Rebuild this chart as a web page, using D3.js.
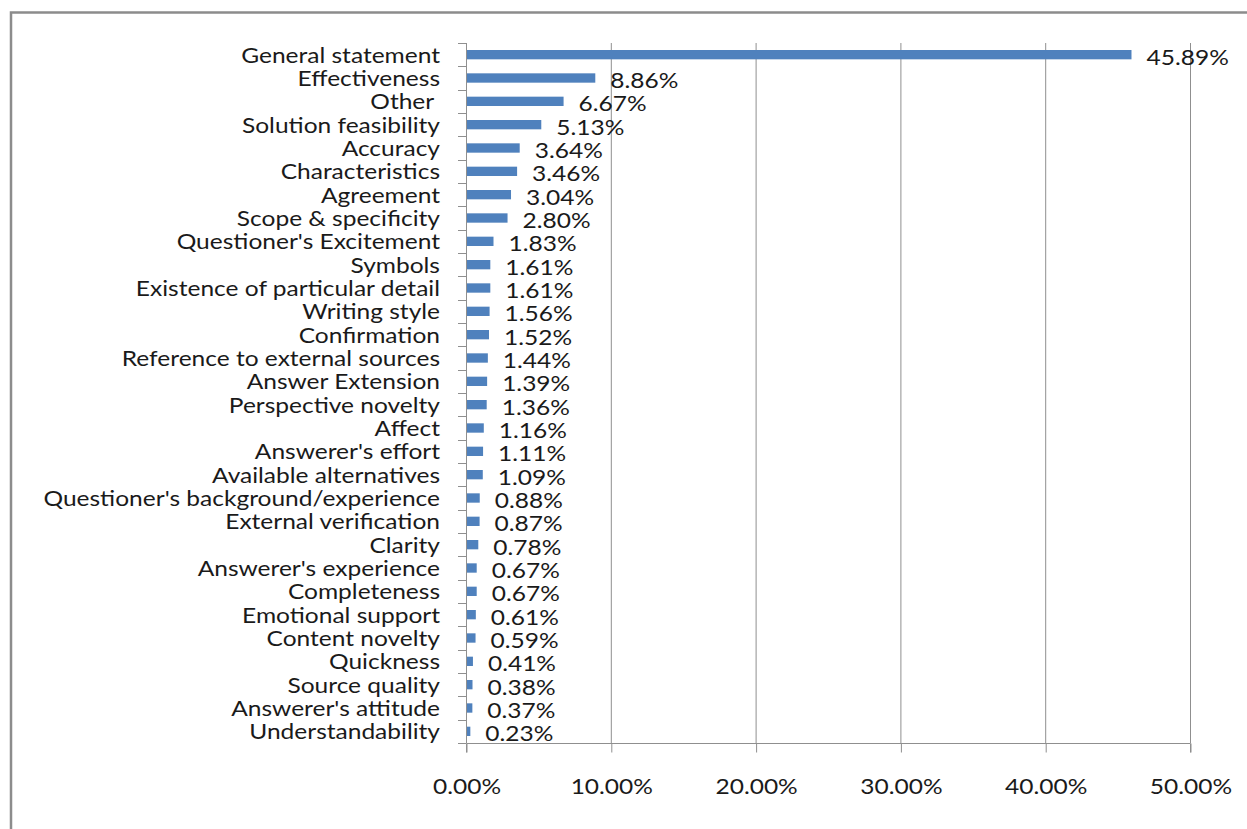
<!DOCTYPE html>
<html>
<head>
<meta charset="utf-8">
<script src="https://cdn.jsdelivr.net/npm/d3@7"></script>
<style>
  html, body { margin: 0; padding: 0; background: #fff; }
  svg { display: block; }
  text { font-family: Lato, "Open Sans", sans-serif; fill: #1a1a1a; }
</style>
</head>
<body>
<svg id="chart" width="1247" height="829"></svg>
<script>
const categories = [
  "General statement", "Effectiveness", "Other\u00a0", "Solution feasibility", "Accuracy",
  "Characteristics", "Agreement", "Scope & specificity", "Questioner's Excitement", "Symbols",
  "Existence of particular detail", "Writing style", "Confirmation", "Reference to external sources",
  "Answer Extension", "Perspective novelty", "Affect", "Answerer's effort", "Available alternatives",
  "Questioner's background/experience", "External verification", "Clarity", "Answerer's experience",
  "Completeness", "Emotional support", "Content novelty", "Quickness", "Source quality",
  "Answerer's attitude", "Understandability"
];
const values = [
  45.89, 8.86, 6.67, 5.13, 3.64, 3.46, 3.04, 2.80, 1.83, 1.61,
  1.61, 1.56, 1.52, 1.44, 1.39, 1.36, 1.16, 1.11, 1.09, 0.88,
  0.87, 0.78, 0.67, 0.67, 0.61, 0.59, 0.41, 0.38, 0.37, 0.23
];
const xTicks = [0, 10, 20, 30, 40, 50];

const svg = d3.select("#chart");
const plot = { left: 466, right: 1190, top: 43, bottom: 743 };
const fontSize = 22;
const stretch = 1.115; // horizontal stretch to mimic the narrow-but-wide Calibri metrics

// chart border
svg.append("rect")
  .attr("x", 11).attr("y", 12.5)
  .attr("width", 1260).attr("height", 840)
  .attr("fill", "none").attr("stroke", "#8c8c8c").attr("stroke-width", 2.5);

const x = d3.scaleLinear().domain([0, 50]).range([plot.left, plot.right]);
const y = d3.scaleBand().domain(categories).range([plot.top, plot.bottom]).padding(0);

// vertical gridlines
svg.append("g").selectAll("line").data(xTicks.slice(1)).join("line")
  .attr("x1", d => x(d) + 0.5).attr("x2", d => x(d) + 0.5)
  .attr("y1", plot.top).attr("y2", plot.bottom)
  .attr("stroke", "#8f8f8f").attr("stroke-width", 1);

// x axis
const xAxis = d3.axisBottom(x).tickValues(xTicks)
  .tickFormat(d => d.toFixed(2) + "%").tickSize(9).tickPadding(26);
const gx = svg.append("g").attr("transform", `translate(0.5,${plot.bottom + 0.5})`).call(xAxis);
gx.select(".domain").attr("stroke", "#8f8f8f").attr("d", `M${plot.left},9V0H${plot.right}V9`);
gx.selectAll(".tick line").attr("stroke", "#8f8f8f");
gx.selectAll(".tick text").attr("font-size", fontSize).attr("fill", "#1a1a1a")
  .attr("transform", `scale(${stretch},1)`)
  .style("font-family", "Lato, 'Open Sans', sans-serif");

// y axis line + ticks at band boundaries
const gy = svg.append("g");
gy.append("line")
  .attr("x1", plot.left + 0.5).attr("x2", plot.left + 0.5)
  .attr("y1", plot.top).attr("y2", plot.bottom)
  .attr("stroke", "#8f8f8f");
const boundaries = categories.map(c => y(c)).concat([plot.bottom]);
gy.selectAll("line.tk").data(boundaries).join("line").attr("class", "tk")
  .attr("x1", plot.left - 8).attr("x2", plot.left)
  .attr("y1", d => Math.round(d) + 0.5).attr("y2", d => Math.round(d) + 0.5)
  .attr("stroke", "#8f8f8f");

// category labels
svg.append("g").selectAll("text").data(categories).join("text")
  .attr("transform", d => `translate(440,${y(d) + y.bandwidth() / 2}) scale(${stretch},1)`)
  .attr("dy", "0.36em")
  .attr("text-anchor", "end")
  .attr("font-size", fontSize)
  .text(d => d);

// bars
const barH = y.bandwidth() * 0.4;
svg.append("g").selectAll("rect").data(values).join("rect")
  .attr("x", x(0) + 1)
  .attr("y", (d, i) => y(categories[i]) + (y.bandwidth() - barH) / 2)
  .attr("width", d => x(d) - x(0))
  .attr("height", barH)
  .attr("fill", "#4f81bd");

// value labels
svg.append("g").selectAll("text").data(values).join("text")
  .attr("transform", (d, i) => `translate(${x(d) + 16},${y(categories[i]) + y.bandwidth() / 2 + 2}) scale(${stretch},1)`)
  .attr("dy", "0.36em")
  .attr("font-size", fontSize)
  .text(d => d.toFixed(2) + "%");
</script>
</body>
</html>
